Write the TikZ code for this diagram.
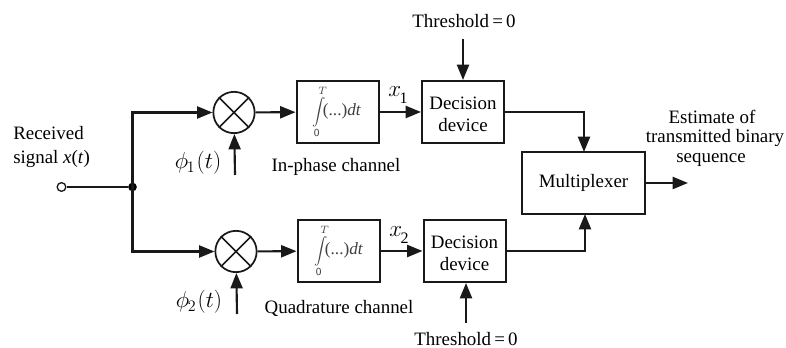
\RequirePackage{fix-cm}
\documentclass[tikz,border=0pt]{standalone}
\usepackage{fontspec}
\setmainfont{Liberation Serif}
\usetikzlibrary{arrows.meta}
\newcommand{\lbl}{\fontsize{14.2}{15}\selectfont}
\newcommand{\intbody}{$\displaystyle\int\limits_{\mathsf{0}}^{T}$\kern-2.5pt{\fontsize{12.9}{14}\selectfont(...)\textit{dt}}}
\newcommand{\subdigit}[1]{\kern-1pt\raisebox{-5pt}{\fontsize{12}{12}\selectfont #1}}
\newcommand{\decbody}{\rule{0pt}{13pt}Decision\\[1pt]device}
\begin{document}
\begin{tikzpicture}[x=0.75pt,y=-0.75pt,
  wire/.style={line width=1.6pt,draw=black!90},
  arr/.style={wire,-{Triangle[length=11.5pt,width=9pt]}},
  blockbox/.style={draw=black!90,line width=1.5pt,fill=white,inner sep=0pt,minimum width=61.5pt,minimum height=46.5pt,align=center,font=\lbl},
  mixer/.style={circle,draw=black!90,line width=1.3pt,minimum size=31pt,inner sep=0pt},
  txt/.style={inner sep=0pt,font=\lbl,align=center},
  intg/.style={inner sep=0pt,font=\fontsize{10.95}{14}\selectfont,text=black!75},
  mathlbl/.style={inner sep=0pt,font=\fontsize{17.28}{20}\selectfont}]
\useasboundingbox (0,0) rectangle (786,348);
% terminals
\node[circle,draw=black!90,line width=1pt,minimum size=6.5pt,inner sep=0pt,fill=white] (in) at (61.5,187) {};
\node[circle,fill=black,minimum size=6.5pt,inner sep=0pt] (j) at (132.5,187) {};
% mixers
\node[mixer] (m1) at (234,112.5) {};
\node[mixer] (m2) at (236,251.5) {};
\foreach \m in {m1,m2}{
  \draw[line width=1.3pt,draw=black!90] (\m.45) -- (\m.225) (\m.135) -- (\m.315);
}
% blocks
\node[blockbox] (i1) at (337.5,112) {};
\node[blockbox] (i2) at (338.5,251) {};
\node[blockbox] (d1) at (463,112) {\decbody};
\node[blockbox] (d2) at (464.5,251) {\decbody};
\node[blockbox,minimum width=92pt] (mx) at (583.5,183) {Multiplexer};
% integrals
\node[intg] (int1) at (337,112) {\intbody};
\node[intg] (int2) at (339,251) {\intbody};
% free ends
\coordinate (p1) at (235,175);
\coordinate (p2) at (237,314);
\coordinate (th1) at (463,39);
\coordinate (th2) at (466,323);
\coordinate (out) at (688,183);
\coordinate (mxt) at (584,152);
\coordinate (mxb) at (585,214);
% connectors
\draw[wire] (in) -- (j);
\draw[arr] (j.center) |- (m1);
\draw[arr] (j.center) |- (m2);
\draw[arr] (p1) -- (m1);
\draw[arr] (p2) -- (m2);
\draw[arr] (m1) -- (i1);
\draw[arr] (m2) -- (i2);
\draw[arr] (i1) -- (d1);
\draw[arr] (i2) -- (d2);
\draw[arr] (th1) -- (d1);
\draw[arr] (th2) -- (d2.south -| th2);
\draw[arr] (d1) -| (mxt);
\draw[arr] (d2) -| (mxb);
\draw[arr] (mx) -- (out);
% labels
\node[txt,anchor=west] (rx1) at (13,133) {Received};
\node[txt,anchor=west] (rx2) at (13,159) {signal \textit{x}(\textit{t})};
\node[mathlbl] (ph1) at (198,163) {$\phi_{\kern-1pt 1}\kern1pt(t)$};
\node[mathlbl] (ph2) at (199,302) {$\phi_{\kern-1pt 2}\kern1pt(t)$};
\node[txt] (ip) at (336,167) {In-phase channel};
\node[txt] (qc) at (339,308) {Quadrature channel};
\node[mathlbl] (x1) at (398,95) {$x$\subdigit{1}};
\node[mathlbl] (x2) at (399,235) {$x$\subdigit{2}};
\node[txt] (tt1) at (464,21) {Threshold\,=\,0};
\node[txt] (tt2) at (466,339) {Threshold\,=\,0};
\node[txt] (e1) at (712,117) {Estimate of};
\node[txt] (e2) at (715,138) {transmitted binary};
\node[txt] (e3) at (711,160) {sequence};
\end{tikzpicture}
\end{document}
